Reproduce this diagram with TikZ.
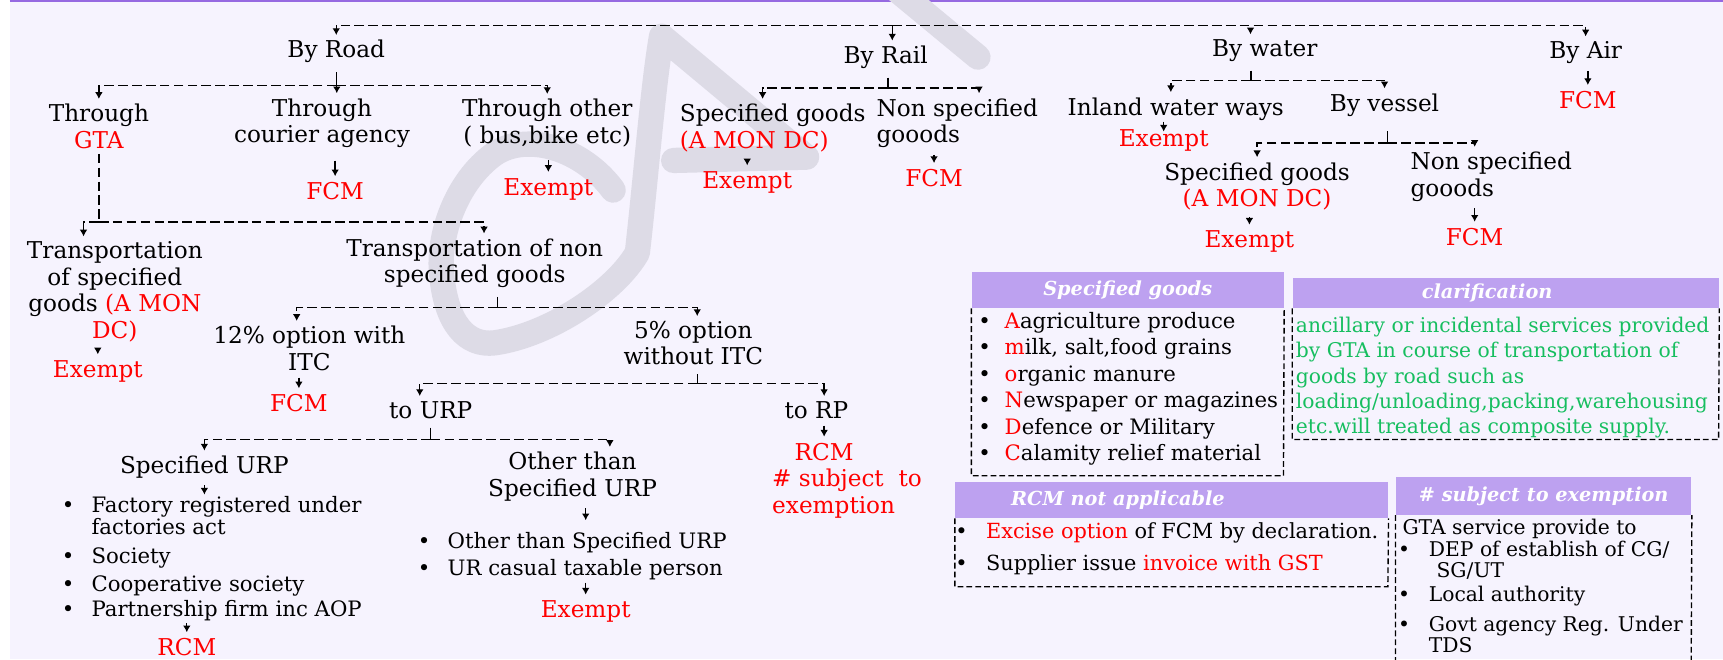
\documentclass[tikz,border=0pt]{standalone}
\usepackage{fontspec}
\setmainfont{DejaVu Serif}
\usepackage{xcolor}
\usetikzlibrary{arrows.meta}
\definecolor{pagebg}{RGB}{246,243,254}
\definecolor{topline}{RGB}{150,105,225}
\definecolor{hdrfill}{RGB}{189,161,240}
\definecolor{wmgray}{RGB}{221,219,230}
\definecolor{txtred}{RGB}{255,0,0}
\definecolor{txtgreen}{RGB}{22,190,95}
\newcommand{\rd}[1]{\textcolor{txtred}{#1}}
\newcommand{\blt}[1][0.54cm]{\makebox[#1][l]{\textbullet}}

\begin{document}
\begin{tikzpicture}[x=0.02cm,y=-0.02cm,inner sep=2.5pt,
  font=\fontsize{12}{13.7}\selectfont,
  bus/.style={line width=0.7pt,dash pattern=on 5pt off 2.2pt,-{Latex[length=3.5pt,width=4pt]}},
  dline/.style={line width=0.7pt,dash pattern=on 5pt off 2.2pt},
  stub/.style={line width=0.7pt,shorten <=2pt},
  arr/.style={line width=0.7pt,-{Latex[length=3.5pt,width=4pt]},shorten <=1pt,shorten >=0.5pt},
  redtxt/.style={text=txtred},
  hdr/.style={fill=hdrfill,text=white,inner sep=0pt,anchor=north west,font=\fontsize{10}{12}\selectfont\bfseries\itshape},
  boxtext/.style={anchor=north west,align=left,font=\fontsize{10.5}{13.7}\selectfont},
  boxframe/.style={line width=0.7pt,dash pattern=on 3pt off 1.6pt},
  lst/.style={anchor=north west,align=left,inner sep=0pt,font=\fontsize{11}{13.7}\selectfont}]
\useasboundingbox (0,0) rectangle (1568,600);
\fill[white] (0,0) rectangle (1568,600);
\fill[pagebg] (9,0) rectangle (1568,600);
\draw[topline,line width=1.2pt] (9,1) -- (1568,1);
\draw[wmgray,line width=0.46cm,line cap=round,line join=round] (558,173) .. controls (530,135) and (480,120) .. (450,140) .. controls (415,165) and (398,215) .. (402,250) .. controls (406,295) and (425,315) .. (450,312) .. controls (500,305) and (560,265) .. (580,230) .. controls (588,160) and (594,80) .. (602,33) -- (734,143) -- (613,146);
\draw[wmgray,line width=0.46cm,line cap=round] (815,-10) -- (890,52);

\node (road) at (306,47) {By Road};
\node (rail) at (806,52) {By Rail};
\node (water) at (1151,46) {By water};
\node (air) at (1443,48) {By Air};
\coordinate (topbus) at (812,23);
\draw[bus] (topbus) -| (road.north);
\draw[bus] (topbus) -| ([xshift=0.12cm]rail.north);
\draw[bus] (topbus) -| ([xshift=-0.26cm]water.north);
\draw[bus] (topbus) -| (air.north);

\node[align=center] (gta) at (90,115) {Through\\\rd{GTA}};
\node[align=center] (courier) at (293,112) {Through\\courier agency};
\node[align=center] (other) at (498,112) {Through other\\( bus,bike etc)};
\coordinate (roadbus) at (306,78);
\draw[stub] (road.south) -- (roadbus);
\draw[bus] (roadbus) -| (gta.north);
\draw[bus] (roadbus) -| ([xshift=0.27cm]courier.north);
\draw[bus] (roadbus) -| (other.north);
\node[redtxt] (fcmcourier) at (305,174) {FCM};
\node[redtxt] (exother) at (499,172) {Exempt};
\draw[arr,shorten <=4pt] (courier.south -| fcmcourier.north) -- (fcmcourier.north);
\draw[arr,shorten <=4pt] (other.south -| exother.north) -- (exother.north);

\coordinate (gtabus) at (90,202);
\node[align=center] (tsg) at (104.5,265.4) {Transportation\\of specified\\goods \rd{(A MON}\\\rd{DC)}};
\node[align=center] (tnsg) at (432,239.6) {Transportation of non\\specified goods};
\draw[dline] (gta.south) -- (gtabus);
\draw[bus] (gtabus) -| ([xshift=-0.57cm]tsg.north);
\draw[bus] (gtabus) -| ([xshift=0.17cm]tnsg.north);
\node[redtxt] (extsg) at (89,338) {Exempt};
\draw[arr] (tsg.south -| extsg.north) -- (extsg.north);

\coordinate (tnsgbus) at (453,280);
\draw[stub] (tnsg.south -| tnsgbus) -- (tnsgbus);
\node[align=center] (itc) at (281.5,317) {12\% option with\\ITC};
\node[align=center] (noitc) at (631,312.4) {5\% option\\without ITC};
\draw[bus] (tnsgbus) -| ([xshift=-0.23cm]itc.north);
\draw[bus] (tnsgbus) -| ([xshift=0.07cm]noitc.north);
\node[redtxt] (fcmitc) at (272,367) {FCM};
\draw[arr] (itc.south -| fcmitc.north) -- (fcmitc.north);

\coordinate (noitcbus) at (634.5,349);
\draw[stub] (noitc.south -| noitcbus) -- (noitcbus);
\node (urp) at (392,373) {to URP};
\node (rp) at (743,373) {to RP};
\draw[bus] (noitcbus) -| ([xshift=-0.2cm]urp.north);
\draw[bus] (noitcbus) -| ([xshift=0.14cm]rp.north);
\node[redtxt] (rcmrp) at (750,411) {RCM};
\draw[arr] (rp.south -| rcmrp.north) -- (rcmrp.north);
\node[redtxt,align=left,anchor=west] (subj) at (698,449) {\# subject\ \ to\\exemption};

\coordinate (urpbus) at (392,400);
\draw[stub] (urp.south) -- (urpbus);
\node (spurp) at (186,425) {Specified URP};
\node[align=center] (othurp) at (521,433.7) {Other than\\Specified URP};
\draw[bus] (urpbus) -| (spurp.north);
\draw[bus] (urpbus) -| ([xshift=0.68cm]othurp.north);
\node[lst] (splist) at (56,451) {\blt Factory registered under\\[-2.2pt]\hspace*{0.54cm}factories act\\[1.4pt]\blt Society\\[1pt]\blt Cooperative society\\[-0.8pt]\blt Partnership firm inc AOP};
\draw[arr] (spurp.south) -- (spurp.south |- splist.north);
\node[redtxt] (rcmsp) at (170,589) {RCM};
\draw[arr] (splist.south -| rcmsp.north) -- (rcmsp.north);
\node[lst] (othlist) at (380,484) {\blt Other than Specified URP\\[0.6pt]\blt UR casual taxable person};
\node[redtxt] (exurp) at (533,556.6) {Exempt};
\draw[arr,shorten >=6pt] (othurp.south -| exurp.north) -- (othlist.north -| exurp.north);
\draw[arr] (othlist.south -| exurp.north) -- (exurp.north);

\coordinate (railbus) at (808,80);
\draw[stub] (rail.south -| railbus) -- (railbus);
\node[align=left,anchor=west] (railsg) at (614,116.5) {Specified goods\\\rd{(A MON DC)}};
\node[align=left,anchor=west] (railnsg) at (793,112) {Non specified\\gooods};
\draw[bus] (railbus) -| ([xshift=1.6cm]railsg.north west);
\draw[bus] (railbus) -| ([xshift=1.96cm]railnsg.north west);
\node[redtxt] (exrail) at (680,166) {Exempt};
\node[redtxt] (fcmrail) at (850,162) {FCM};
\draw[arr] (railsg.south -| exrail.north) -- (exrail.north);
\draw[arr] (railnsg.south -| fcmrail.north) -- (fcmrail.north);

\coordinate (waterbus) at (1138.5,73);
\draw[stub] (water.south -| waterbus) -- (waterbus);
\node (inland) at (1070,99) {Inland water ways};
\node (vessel) at (1260,95.5) {By vessel};
\draw[bus] (waterbus) -| ([xshift=-0.09cm]inland.north);
\draw[bus] (waterbus) -| (vessel.north);
\node[redtxt] (exinland) at (1059,127.4) {Exempt};
\draw[arr,shorten <=0pt,shorten >=0pt] ([yshift=0.04cm]exinland.north) -- ([yshift=-0.14cm]exinland.north);
\coordinate (vesselbus) at (1262.7,130);
\draw[stub,shorten <=5pt] (vessel.south -| vesselbus) -- (vesselbus);
\node[align=center] (watersg) at (1144,169.5) {Specified goods\\\rd{(A MON DC)}};
\node[align=left,anchor=west] (waternsg) at (1279,160.8) {Non specified\\gooods};
\draw[bus] (vesselbus) -| (watersg.north);
\draw[bus] (vesselbus) -| ([xshift=1.26cm]waternsg.north west);
\node[redtxt] (exwater) at (1137,220) {Exempt};
\node[redtxt] (fcmwater) at (1342,215.4) {FCM};
\draw[arr] (watersg.south -| exwater.north) -- (exwater.north);
\draw[arr] (waternsg.south -| fcmwater.north) -- (fcmwater.north);

\node[redtxt] (fcmair) at (1445,91) {FCM};
\draw[arr] (air.south -| fcmair.north) -- (fcmair.north);

\node[hdr,minimum width=5.68cm,minimum height=0.66cm] (sghdr) at (884,247) {Specified goods};
\node[boxtext,inner xsep=0.12cm,inner ysep=0.06cm,font=\fontsize{11}{13.7}\selectfont] (sgbody) at (sghdr.south west) {\blt[0.48cm]\rd{A}agriculture produce\\\blt[0.48cm]\rd{m}ilk, salt,food grains\\\blt[0.48cm]\rd{o}rganic manure\\\blt[0.48cm]\rd{N}ewspaper or magazines\\\blt[0.48cm]\rd{D}efence or Military\\\blt[0.48cm]\rd{C}alamity relief material};
\coordinate (sgfoot) at (1168,433);
\draw[boxframe] (sghdr.south west) |- (sgfoot) -- (sghdr.south east);

\node[hdr,minimum width=7.76cm,minimum height=0.54cm] (clhdr) at (1176,253) {clarification\hspace*{0.68cm}};
\node[boxtext,text=txtgreen,inner xsep=0.06cm,inner ysep=0.15cm,font=\fontsize{10.5}{13.1}\selectfont] (clbody) at (clhdr.south west) {ancillary or incidental services provided\\by GTA in course of transportation of\\goods by road such as\\loading/unloading,packing,warehousing\\etc.will treated as composite supply.};
\coordinate (clfoot) at (1564,400);
\draw[boxframe] (clhdr.south west) |- (clfoot) -- (clhdr.south east);

\node[hdr,minimum width=7.88cm,minimum height=0.66cm] (rcmhdr) at (869,438) {RCM not applicable\hspace*{1.96cm}};
\node[boxtext,inner xsep=0pt,inner ysep=0.07cm,font=\fontsize{10.8}{13.7}\selectfont] (rcmbody) at (rcmhdr.south west) {\blt[0.56cm]\rd{Excise option} of FCM by declaration.\\[2.8pt]\blt[0.56cm]Supplier issue \rd{invoice with GST}};
\coordinate (rcmfoot) at (1263,534);
\draw[boxframe] (rcmhdr.south west) |- (rcmfoot) -- (rcmhdr.south east);

\node[hdr,minimum width=5.38cm,minimum height=0.68cm] (exhdr) at (1270,434) {\# subject to exemption};
\node[boxtext,inner xsep=0.04cm,inner ysep=0.07cm] (exbody) at (exhdr.south west) {\hspace*{0.08cm}GTA service provide to\\[-2.6pt]\blt[0.56cm]DEP of establish of CG/\\[-2.6pt]\hspace*{0.7cm}SG/UT\\[-1.5pt]\blt[0.56cm]Local authority\\[1.9pt]\blt[0.56cm]Govt agency Reg. Under\\[-2.6pt]\hspace*{0.56cm}TDS};
\coordinate (exfoot) at (1539,615);
\draw[boxframe] (exhdr.south west) |- (exfoot) -- (exhdr.south east);
\end{tikzpicture}
\end{document}
